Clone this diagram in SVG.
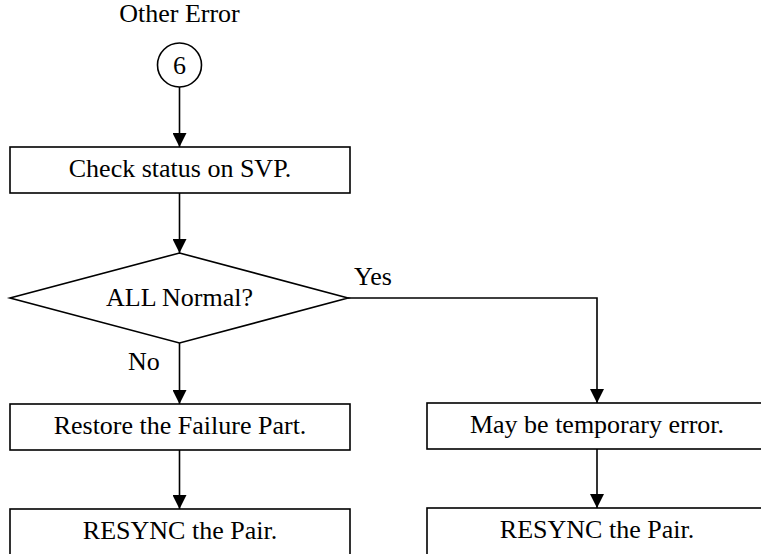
<svg xmlns="http://www.w3.org/2000/svg" width="761" height="554" viewBox="0 0 761 554">
<defs>
<style>
text{font-family:"Liberation Serif","Times New Roman",serif;font-size:26px;fill:#000}
.c{text-anchor:middle}
.s{fill:#fff;stroke:#000;stroke-width:1.6}
.l{fill:none;stroke:#000;stroke-width:1.6}
</style>
<marker id="ah" viewBox="0 0 14 14" refX="14" refY="7" markerWidth="14" markerHeight="14" markerUnits="userSpaceOnUse" orient="auto">
<path d="M0,0 L14,7 L0,14 Z" fill="#000"/>
</marker>
</defs>
<rect width="761" height="554" fill="#fff"/>
<g id="connectors">
<line class="l" x1="179.5" y1="87" x2="179.5" y2="147" marker-end="url(#ah)"/>
<line class="l" x1="179.5" y1="193" x2="179.5" y2="253" marker-end="url(#ah)"/>
<line class="l" x1="179.5" y1="343" x2="179.5" y2="404" marker-end="url(#ah)"/>
<polyline class="l" points="348,298 597,298 597,403" marker-end="url(#ah)"/>
<line class="l" x1="179.5" y1="450" x2="179.5" y2="509" marker-end="url(#ah)"/>
<line class="l" x1="597" y1="449" x2="597" y2="508" marker-end="url(#ah)"/>
<text x="354" y="285">Yes</text>
<text x="128" y="370">No</text>
</g>
<g id="start">
<text class="c" x="179.5" y="22">Other Error</text>
<circle class="s" cx="179.5" cy="65" r="22"/>
<text class="c" x="179.5" y="74">6</text>
</g>
<g id="check">
<rect class="s" x="10" y="147" width="340" height="46"/>
<text class="c" x="180" y="177">Check status on SVP.</text>
</g>
<g id="decision">
<polygon class="s" points="179.5,253 348,298 179.5,343 10,298"/>
<text class="c" x="179.5" y="306">ALL Normal?</text>
</g>
<g id="restore">
<rect class="s" x="10" y="404" width="340" height="46"/>
<text class="c" x="180" y="434">Restore the Failure Part.</text>
</g>
<g id="temporary">
<rect class="s" x="427" y="403" width="340" height="46"/>
<text class="c" x="597" y="433">May be temporary error.</text>
</g>
<g id="resync-left">
<rect class="s" x="10" y="509" width="340" height="47"/>
<text class="c" x="180" y="539">RESYNC the Pair.</text>
</g>
<g id="resync-right">
<rect class="s" x="427" y="508" width="340" height="48"/>
<text class="c" x="597" y="538">RESYNC the Pair.</text>
</g>
</svg>
